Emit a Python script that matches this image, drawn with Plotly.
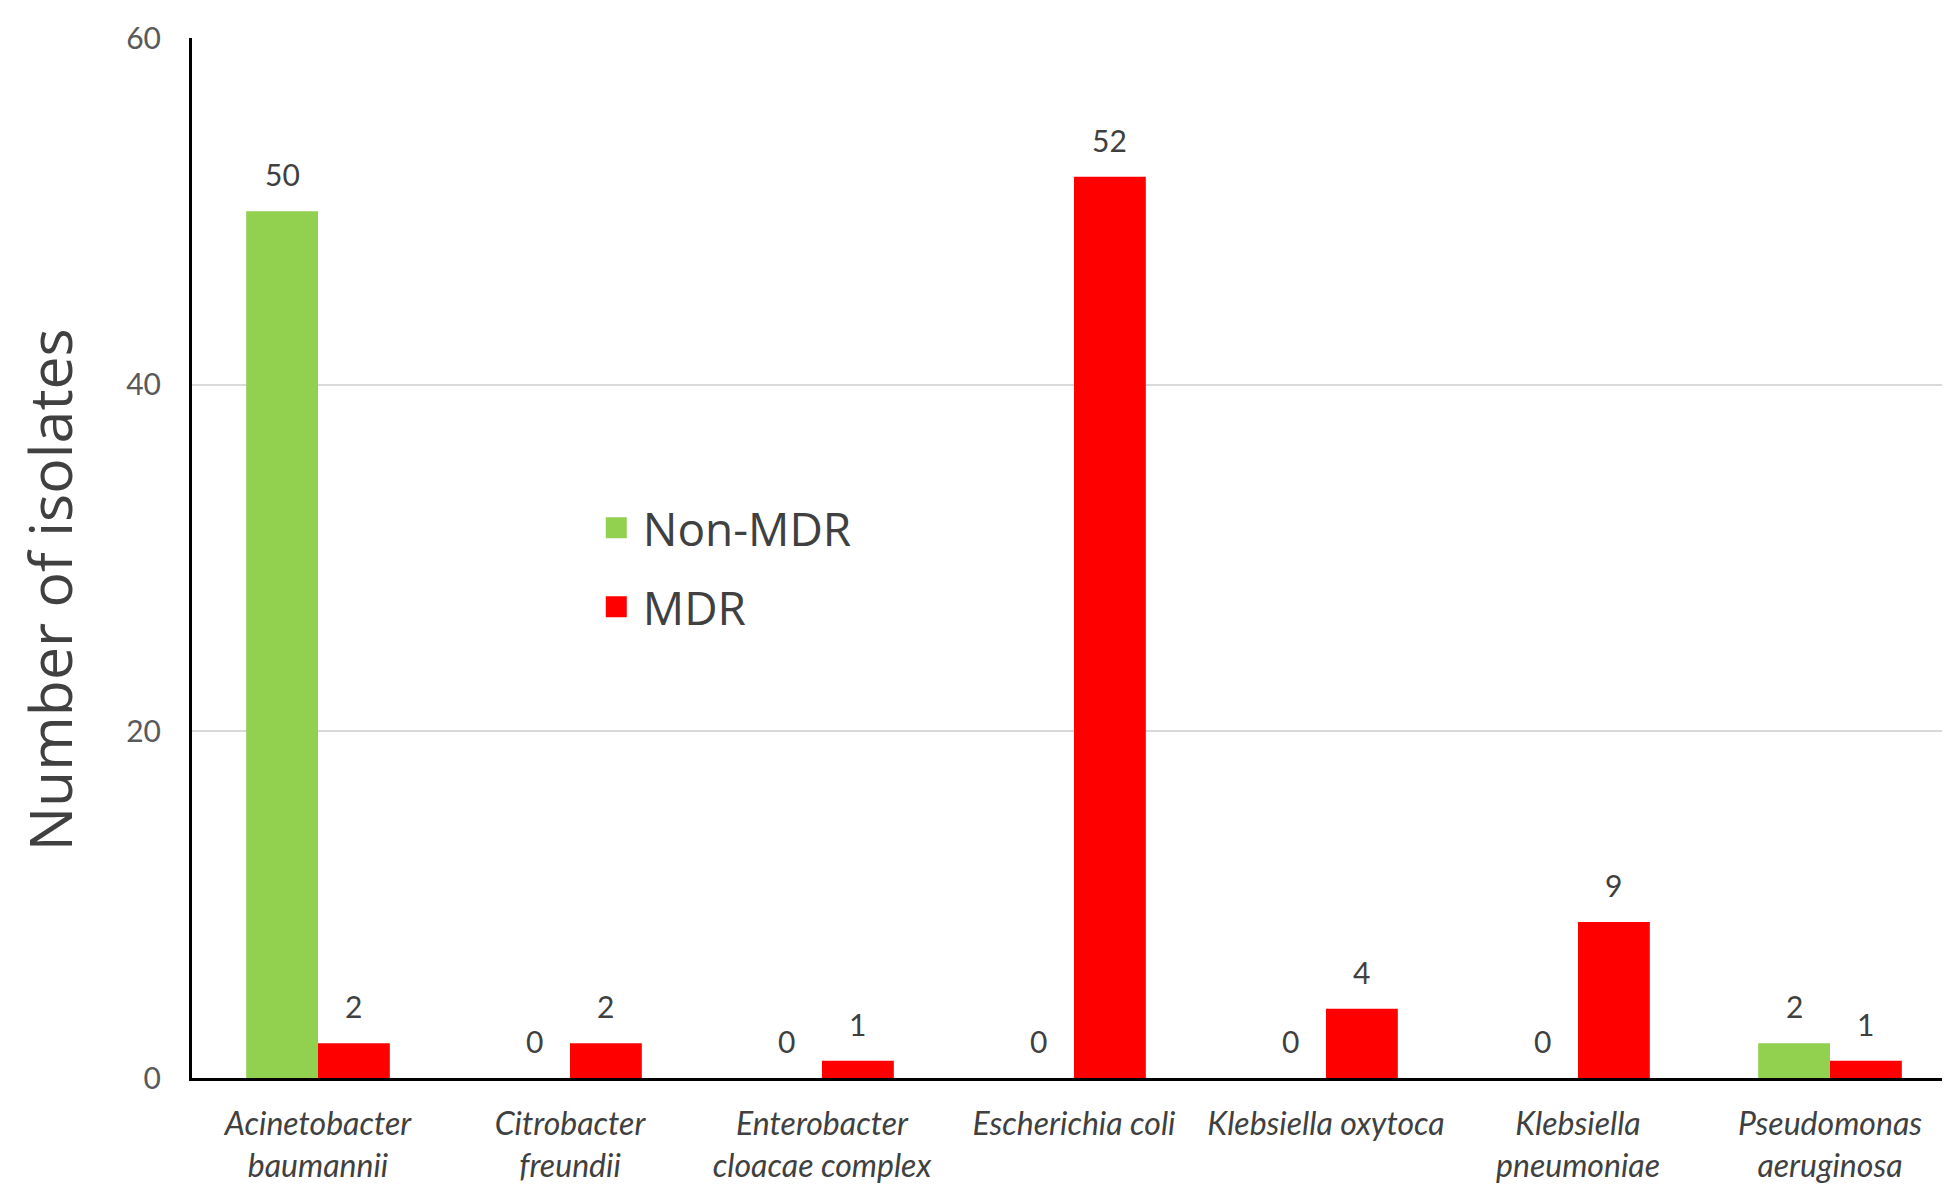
import plotly.graph_objects as go

species = ["Acinetobacter<br>baumannii", "Citrobacter<br>freundii", "Enterobacter<br>cloacae complex",
           "Escherichia coli", "Klebsiella oxytoca", "Klebsiella<br>pneumoniae", "Pseudomonas<br>aeruginosa"]
non_mdr = [50, 0, 0, 0, 0, 0, 2]
mdr = [2, 2, 1, 52, 4, 9, 1]
series_names = ["Non-MDR", "MDR"]
series_colors = ["#92D050", "#FF0000"]
y_ticks = [0, 20, 40, 60]

bargap = 0.43
half = (1 - bargap) / 4  # centre of each bar inside its group

fig = go.Figure()
for name, vals, col in zip(series_names, [non_mdr, mdr], series_colors):
    fig.add_trace(go.Bar(x=species, y=vals, name=name, marker_color=col,
                         marker_line_width=0, showlegend=False))
    # legend-only trace so the key squares can be bigger
    fig.add_trace(go.Scatter(x=[None], y=[None], mode="markers", name=name, legendgroup=name,
                             marker=dict(symbol="square", size=16, color=col,
                                         line=dict(color=col, width=5))))

ann = []
for j, vals in enumerate([non_mdr, mdr]):
    off = -half if j == 0 else half
    for i, v in enumerate(vals):
        ann.append(dict(x=i + off, y=v, xref="x", yref="y", text=str(v), showarrow=False,
                        yanchor="middle", yshift=37,
                        font=dict(family="Lato", size=30, color="#404040")))

ann.append(dict(x=-0.081, y=0.469, xref="paper", yref="paper", text="Number of isolates",
                textangle=-90, showarrow=False, xanchor="center", yanchor="middle",
                font=dict(family="Open Sans", size=59, color="#404040")))

fig.update_layout(
    width=1950, height=1187,
    margin=dict(l=184, r=2, t=30, b=117),
    plot_bgcolor="white", paper_bgcolor="white",
    barmode="group", bargap=bargap, bargroupgap=0,
    font=dict(family="Lato", color="#404040"),
    annotations=ann,
    legend=dict(x=0.2255, y=0.564, xanchor="left", yanchor="top",
                traceorder="grouped", tracegroupgap=16, itemsizing="trace", itemwidth=43,
                font=dict(family="Open Sans", size=46, color="#404040"),
                bgcolor="rgba(0,0,0,0)"),
)
fig.update_xaxes(showline=True, linecolor="black", linewidth=3, showgrid=False,
                 ticks="", tickfont=dict(family="Lato", size=32, color="#404040", style="italic"),
                 ticklabelstandoff=16)
fig.update_yaxes(range=[0, 60], tickvals=y_ticks, showline=True, linecolor="black", linewidth=3,
                 showgrid=True, gridcolor="#D9D9D9", gridwidth=2, zeroline=False,
                 tickfont=dict(family="Lato", size=30, color="#595959"), ticklabelstandoff=22)

fig.write_html("out.html")
